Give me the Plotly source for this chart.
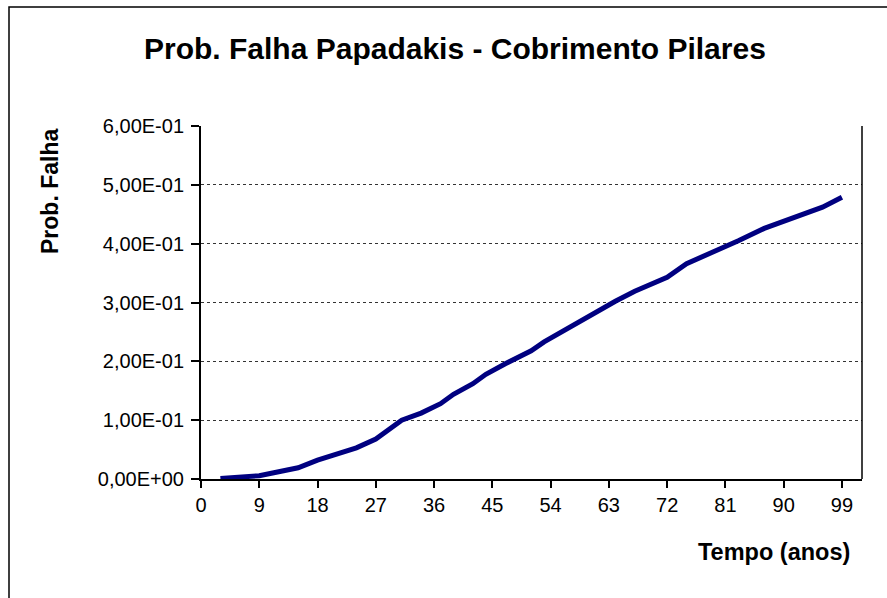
import plotly.graph_objects as go

# Failure probability over time (Papadakis model, column cover)
anos = [3, 9, 15, 18, 24, 27, 31, 34, 37, 39, 42, 44, 47, 48, 51, 53, 56, 57,
        60, 64, 67, 72, 75, 80, 83, 87, 90, 96, 99]
prob_falha = [0.001, 0.0056, 0.019, 0.032, 0.053, 0.068, 0.100, 0.112, 0.128,
              0.144, 0.162, 0.178, 0.196, 0.201, 0.218, 0.233, 0.252, 0.258,
              0.278, 0.302, 0.319, 0.343, 0.366, 0.389, 0.405, 0.426, 0.438,
              0.462, 0.479]

y_ticks = [0.0, 0.1, 0.2, 0.3, 0.4, 0.5, 0.6]
y_labels = ["0,00E+00", "1,00E-01", "2,00E-01", "3,00E-01",
            "4,00E-01", "5,00E-01", "6,00E-01"]
x_ticks = [0, 9, 18, 27, 36, 45, 54, 63, 72, 81, 90, 99]

FONT = "Liberation Sans, Arial, sans-serif"

fig = go.Figure()
fig.add_trace(go.Scatter(
    x=anos, y=prob_falha, mode="lines",
    line=dict(color="#000080", width=5),
    showlegend=False, hoverinfo="skip",
))

W, H = 887, 598
L, R, T, B = 201, 25, 126, 119
pw, ph = W - L - R, H - T - B

fig.update_layout(
    width=W, height=H,
    margin=dict(l=L, r=R, t=T, b=B, pad=0),
    paper_bgcolor="white", plot_bgcolor="white",
    font=dict(family=FONT, color="black", size=20),
    xaxis=dict(
        range=[0, 102.1], tickvals=x_ticks, ticktext=[str(v) for v in x_ticks],
        showgrid=False, zeroline=False,
        showline=True, linecolor="black", linewidth=2,
        ticks="outside", ticklen=7, tickwidth=2, tickcolor="black",
        tickfont=dict(size=20),
    ),
    yaxis=dict(
        range=[0, 0.6], tickvals=y_ticks, ticktext=y_labels,
        showgrid=True, gridcolor="#333333", gridwidth=1, griddash="dot",
        zeroline=False,
        showline=True, linecolor="black", linewidth=2,
        ticks="outside", ticklen=8, tickwidth=2, tickcolor="black",
        tickfont=dict(size=20), ticklabelstandoff=3,
    ),
    shapes=[
        # chart frame (left and top edges visible)
        dict(type="rect", xref="paper", yref="paper",
             x0=(9 - L) / pw, x1=1.2, y0=-0.5, y1=(H - B - 7) / ph,
             line=dict(color="black", width=1.5), layer="below"),
        # right edge of plot area
        dict(type="line", xref="paper", yref="paper",
             x0=1, x1=1, y0=0, y1=1,
             line=dict(color="black", width=1.5)),
    ],
    annotations=[
        dict(text="<b>Prob. Falha Papadakis - Cobrimento Pilares</b>",
             xref="paper", yref="paper",
             x=(455 - L) / pw, y=(H - B - 48) / ph,
             xanchor="center", yanchor="middle", showarrow=False,
             font=dict(size=30, family=FONT)),
        dict(text="<b>Tempo (anos)</b>", xref="paper", yref="paper",
             x=(852 - L) / pw, y=(H - B - 552) / ph,
             xanchor="right", yanchor="middle", showarrow=False,
             font=dict(size=23.5, family=FONT)),
        dict(text="<b>Prob. Falha</b>", xref="paper", yref="paper",
             x=(50 - L) / pw, y=(H - B - 192) / ph, textangle=-90,
             xanchor="center", yanchor="middle", showarrow=False,
             font=dict(size=23, family=FONT)),
    ],
)

fig.write_html("out.html")
